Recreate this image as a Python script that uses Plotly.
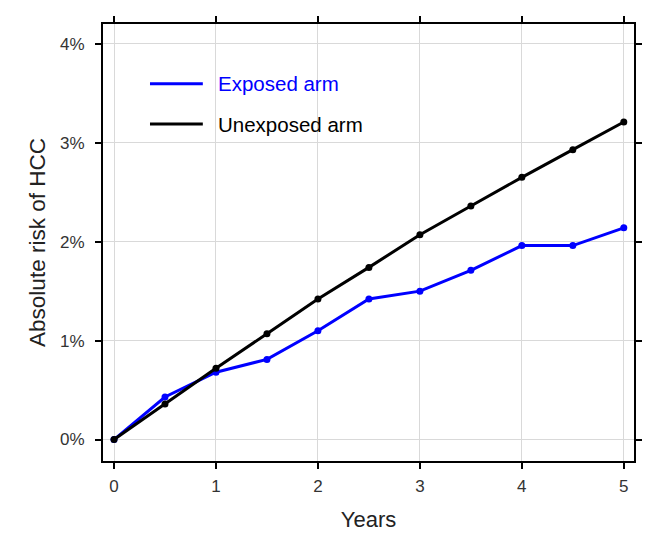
import plotly.graph_objects as go

years = [0, 0.5, 1, 1.5, 2, 2.5, 3, 3.5, 4, 4.5, 5]
exposed = [0, 0.43, 0.68, 0.81, 1.10, 1.42, 1.50, 1.71, 1.96, 1.96, 2.14]
unexposed = [0, 0.36, 0.72, 1.07, 1.42, 1.74, 2.07, 2.36, 2.65, 2.93, 3.21]
x_ticks = [0, 1, 2, 3, 4, 5]
y_ticks = [0, 1, 2, 3, 4]
y_tick_labels = ["0%", "1%", "2%", "3%", "4%"]
series_names = ["Exposed arm", "Unexposed arm"]
series_colors = ["#0000ff", "#000000"]

FONT = "Liberation Sans, Arial, sans-serif"

fig = go.Figure()
fig.add_trace(go.Scatter(x=years, y=exposed, mode="lines+markers", name=series_names[0],
                         line=dict(color=series_colors[0], width=3),
                         marker=dict(size=7, color=series_colors[0]), showlegend=False))
fig.add_trace(go.Scatter(x=years, y=unexposed, mode="lines+markers", name=series_names[1],
                         line=dict(color=series_colors[1], width=3),
                         marker=dict(size=7, color=series_colors[1]), showlegend=False))

# manual legend (inside plot, upper left)
leg_y = [0.863, 0.771]
for name, col, yy in zip(series_names, series_colors, leg_y):
    fig.add_shape(type="line", xref="paper", yref="paper", x0=0.0885, x1=0.188, y0=yy, y1=yy,
                  line=dict(color=col, width=3))
    fig.add_annotation(text=name, xref="paper", yref="paper", x=0.212, y=yy, xanchor="left",
                       yanchor="middle", showarrow=False,
                       font=dict(size=20.5, color=col, family=FONT))

axis_common = dict(showline=True, linewidth=2, linecolor="black", mirror="allticks",
                   ticks="outside", ticklen=6, tickwidth=2, tickcolor="black",
                   showgrid=True, gridcolor="#d9d9d9", gridwidth=1, zeroline=False,
                   tickfont=dict(size=17, color="#333333", family=FONT), automargin=False)

fig.update_xaxes(range=[-0.108, 5.10], tickmode="array", tickvals=x_ticks,
                 ticktext=[str(v) for v in x_ticks], ticklabelstandoff=3,
                 title=dict(text="Years", font=dict(size=22, color="#222222", family=FONT), standoff=16),
                 **axis_common)
fig.update_yaxes(range=[-0.217, 4.20], tickmode="array", tickvals=y_ticks, ticktext=y_tick_labels,
                 ticklabelstandoff=7,
                 title=dict(text="Absolute risk of HCC", font=dict(size=22.5, color="#222222", family=FONT), standoff=8),
                 **axis_common)

fig.update_layout(width=665, height=540, margin=dict(l=103, r=31, t=24, b=79),
                  plot_bgcolor="white", paper_bgcolor="white",
                  font=dict(family=FONT))

fig.write_html("out.html", config={"displayModeBar": False},
               post_script="document.body.style.margin='0';")
